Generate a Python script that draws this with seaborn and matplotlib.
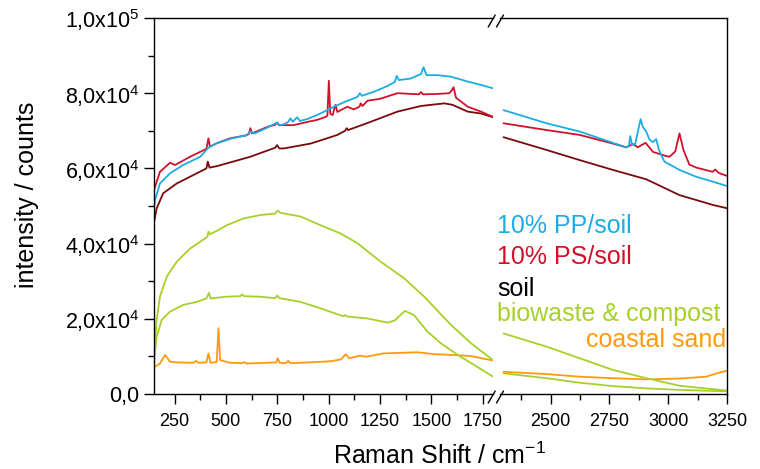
import numpy as np
import pandas as pd
import matplotlib
matplotlib.use("Agg")
import matplotlib.pyplot as plt
from matplotlib.lines import Line2D
from matplotlib.ticker import MultipleLocator, FixedLocator
import seaborn as sns

# ---------------- data (intensity in units of 10^4 counts) ----------------
SERIES = ["10% PP/soil", "10% PS/soil", "soil", "biowaste 1", "biowaste 2", "coastal sand"]
COLORS = {"10% PP/soil": "#1CACE3", "10% PS/soil": "#D0112B", "soil": "#7A0A0A",
          "biowaste 1": "#A6D12A", "biowaste 2": "#A6D12A", "coastal sand": "#FF9A0E"}

# left segment (150 - 1800 cm-1)
pp_lo_x = [151, 155, 179, 228, 292, 375, 415, 456, 530, 600, 619, 640, 700, 749, 760, 780, 800, 814, 825, 847,
           860, 900, 960, 1026, 1083, 1140, 1152, 1162, 1221, 1286, 1322, 1331, 1342, 1400, 1449, 1462, 1476,
           1530, 1595, 1677, 1742, 1800]
pp_lo_y = [5.00, 5.16, 5.60, 5.87, 6.09, 6.31, 6.55, 6.67, 6.80, 6.88, 6.98, 6.93, 7.08, 7.22, 7.14, 7.17, 7.22,
           7.33, 7.24, 7.36, 7.26, 7.32, 7.46, 7.64, 7.78, 7.90, 8.00, 7.93, 8.04, 8.19, 8.30, 8.46, 8.35, 8.39,
           8.51, 8.69, 8.48, 8.48, 8.44, 8.31, 8.22, 8.13]

ps_lo_x = [151, 155, 179, 228, 252, 326, 405, 415, 422, 456, 520, 600, 612, 619, 627, 700, 740, 749, 760, 829,
           900, 944, 985, 994, 1001, 1008, 1020, 1028, 1034, 1042, 1091, 1122, 1150, 1156, 1165, 1189, 1250,
           1335, 1440, 1449, 1460, 1530, 1587, 1600, 1608, 1620, 1677, 1742, 1800]
ps_lo_y = [5.45, 5.51, 5.91, 6.15, 6.09, 6.31, 6.52, 6.80, 6.58, 6.67, 6.80, 6.88, 6.92, 7.07, 6.93, 7.10, 7.16,
           7.22, 7.15, 7.15, 7.24, 7.29, 7.37, 7.40, 8.33, 7.45, 7.42, 7.60, 7.69, 7.50, 7.64, 7.57, 7.64, 7.73,
           7.66, 7.80, 7.85, 8.00, 7.97, 8.03, 7.97, 7.98, 8.00, 8.08, 8.16, 7.88, 7.64, 7.51, 7.37]

soil_lo_x = [151, 163, 195, 261, 326, 405, 412, 420, 456, 619, 740, 749, 760, 781, 912, 1009, 1042, 1080,
             1088, 1095, 1205, 1335, 1449, 1563, 1603, 1677, 1742, 1800]
soil_lo_y = [4.60, 4.94, 5.34, 5.60, 5.78, 6.00, 6.18, 6.02, 6.06, 6.31, 6.55, 6.62, 6.53, 6.53, 6.66, 6.83,
             6.89, 7.00, 7.07, 7.02, 7.24, 7.51, 7.66, 7.73, 7.69, 7.51, 7.46, 7.36]

bio1_lo_x = [150, 163, 179, 212, 261, 326, 375, 410, 415, 422, 460, 505, 586, 668, 740, 752, 765, 863, 960,
             1058, 1140, 1253, 1367, 1465, 1595, 1693, 1800]
bio1_lo_y = [1.08, 1.97, 2.59, 3.12, 3.52, 3.87, 4.05, 4.18, 4.32, 4.25, 4.35, 4.49, 4.67, 4.76, 4.80, 4.88,
             4.82, 4.72, 4.49, 4.27, 4.01, 3.52, 3.08, 2.59, 1.84, 1.35, 0.90]

bio2_lo_x = [150, 163, 187, 228, 293, 358, 405, 418, 425, 505, 570, 578, 590, 660, 740, 750, 760, 863, 960,
             1070, 1080, 1090, 1188, 1286, 1320, 1371, 1415, 1481, 1546, 1628, 1709, 1800]
bio2_lo_y = [0.86, 1.52, 1.97, 2.19, 2.37, 2.45, 2.54, 2.69, 2.54, 2.59, 2.60, 2.65, 2.60, 2.59, 2.55, 2.62,
             2.55, 2.45, 2.28, 2.07, 2.10, 2.06, 2.01, 1.90, 1.95, 2.21, 2.10, 1.66, 1.35, 1.04, 0.77, 0.46]

sand_lo_x = [150, 179, 204, 228, 261, 340, 355, 365, 405, 415, 425, 455, 464, 472, 521, 580, 590, 600, 700,
             745, 752, 762, 790, 803, 815, 863, 1009, 1060, 1083, 1100, 1153, 1180, 1270, 1433, 1515, 1595,
             1693, 1800]
sand_lo_y = [0.71, 0.81, 1.04, 0.86, 0.84, 0.83, 0.88, 0.83, 0.84, 1.08, 0.83, 0.85, 1.75, 0.90, 0.83, 0.82,
             0.85, 0.81, 0.83, 0.84, 0.95, 0.83, 0.82, 0.88, 0.82, 0.83, 0.87, 0.92, 1.06, 0.95, 1.02, 0.99,
             1.08, 1.11, 1.06, 1.04, 1.01, 0.89]

# right segment (2300 - 3250 cm-1)
pp_hi_x = [2300, 2483, 2624, 2765, 2822, 2833, 2839, 2846, 2860, 2875, 2883, 2892, 2905, 2921, 2935, 2949,
           2960, 2984, 3048, 3118, 3189, 3250]
pp_hi_y = [7.55, 7.20, 6.98, 6.68, 6.56, 6.60, 6.86, 6.62, 6.65, 7.10, 7.31, 7.10, 7.00, 6.76, 6.70, 6.78,
           6.50, 6.18, 5.96, 5.78, 5.65, 5.53]

ps_hi_x = [2300, 2483, 2624, 2765, 2822, 2851, 2870, 2904, 2935, 2990, 3006, 3030, 3048, 3065, 3090, 3120,
           3189, 3200, 3215, 3250]
ps_hi_y = [7.20, 7.02, 6.89, 6.66, 6.56, 6.65, 6.56, 6.68, 6.44, 6.33, 6.31, 6.45, 6.93, 6.49, 6.10, 6.02,
           5.91, 5.97, 5.88, 5.80]

soil_hi_x = [2300, 2483, 2624, 2765, 2907, 3048, 3189, 3250]
soil_hi_y = [6.83, 6.49, 6.22, 5.96, 5.71, 5.29, 5.03, 4.94]

bio1_hi_x = [2300, 2483, 2624, 2765, 2907, 3048, 3250]
bio1_hi_y = [1.61, 1.26, 0.95, 0.64, 0.42, 0.22, 0.09]

bio2_hi_x = [2300, 2483, 2624, 2765, 2907, 3048, 3250]
bio2_hi_y = [0.55, 0.42, 0.30, 0.21, 0.15, 0.11, 0.07]

sand_hi_x = [2300, 2483, 2624, 2765, 2907, 3048, 3161, 3218, 3250]
sand_hi_y = [0.59, 0.53, 0.46, 0.42, 0.39, 0.41, 0.46, 0.57, 0.62]

X_MAJOR_LO = [250, 500, 750, 1000, 1250, 1500, 1750]
X_MAJOR_HI = [2500, 2750, 3000, 3250]
Y_MAJOR = [0, 20000, 40000, 60000, 80000, 100000]
Y_LABELS = ["0,0", "2,0x10$^{4}$", "4,0x10$^{4}$", "6,0x10$^{4}$", "8,0x10$^{4}$", "1,0x10$^{5}$"]
LEGEND = [("10% PP/soil", "#1CACE3"), ("10% PS/soil", "#D0112B"), ("soil", "#000000"),
          ("biowaste & compost", "#A6D12A"), ("coastal sand", "#FF9A0E")]

# ---------------- build long-form tables ----------------
def table(pairs):
    rows = []
    for name, xs, ys in pairs:
        for x, y in zip(xs, ys):
            rows.append((name, x, y * 1e4))
    return pd.DataFrame(rows, columns=["series", "shift", "counts"])

df_lo = table([("10% PP/soil", pp_lo_x, pp_lo_y), ("10% PS/soil", ps_lo_x, ps_lo_y),
               ("soil", soil_lo_x, soil_lo_y), ("biowaste 1", bio1_lo_x, bio1_lo_y),
               ("biowaste 2", bio2_lo_x, bio2_lo_y), ("coastal sand", sand_lo_x, sand_lo_y)])
df_hi = table([("10% PP/soil", pp_hi_x, pp_hi_y), ("10% PS/soil", ps_hi_x, ps_hi_y),
               ("soil", soil_hi_x, soil_hi_y), ("biowaste 1", bio1_hi_x, bio1_hi_y),
               ("biowaste 2", bio2_hi_x, bio2_hi_y), ("coastal sand", sand_hi_x, sand_hi_y)])

# ---------------- style ----------------
sns.set_style("ticks")
plt.rcParams["font.family"] = ["Liberation Sans", "DejaVu Sans"]
plt.rcParams["mathtext.fontset"] = "custom"
plt.rcParams["mathtext.rm"] = "Liberation Sans"
plt.rcParams["mathtext.it"] = "Liberation Sans:italic"
plt.rcParams["mathtext.default"] = "regular"
for key in ("text.color", "axes.labelcolor", "xtick.color", "ytick.color",
            "xtick.labelcolor", "ytick.labelcolor", "axes.edgecolor"):
    plt.rcParams[key] = "black"

W, H = 760, 469
fig = plt.figure(figsize=(W / 100, H / 100), dpi=100)

def fx(px):
    return px / W

def fy(py):
    return 1 - py / H

top, bot = 18, 394
axL = fig.add_axes([fx(154), fy(bot), fx(493) - fx(154), fy(top) - fy(bot)])
axR = fig.add_axes([fx(500), fy(bot), fx(727) - fx(500), fy(top) - fy(bot)])

order = SERIES[::-1]
for ax, df in ((axL, df_lo), (axR, df_hi)):
    sns.lineplot(data=df, x="shift", y="counts", hue="series", hue_order=order,
                 palette=COLORS, estimator=None, sort=False, legend=False,
                 linewidth=1.3, ax=ax)
    ax.set_ylim(0, 100000)
    ax.set_xlabel("")
    ax.set_ylabel("")
    for s in ax.spines.values():
        s.set_linewidth(1.0)
        s.set_color("black")
    ax.tick_params(axis="both", which="major", direction="out", length=7.5, width=1.0,
                   color="black", labelcolor="black")
    ax.tick_params(axis="both", which="minor", direction="out", length=4, width=1.0, color="black")
    ax.tick_params(axis="x", labelsize=13, pad=6)
    ax.xaxis.set_minor_locator(MultipleLocator(125))

axL.set_xlim(150, 1800)
axL.set_xticks(X_MAJOR_LO)
axL.set_xticklabels([str(v) for v in X_MAJOR_LO])
axL.set_yticks(Y_MAJOR)
axL.set_yticklabels(Y_LABELS)
axL.yaxis.set_minor_locator(MultipleLocator(10000))
axL.tick_params(axis="y", labelsize=15.5, pad=3)
axL.spines["right"].set_visible(False)
axL.spines["top"].set_visible(True)

axR.set_xlim(2285, 3250)
axR.set_xticks(X_MAJOR_HI)
axR.set_xticklabels([str(v) for v in X_MAJOR_HI])
axR.set_yticks([])
axR.yaxis.set_minor_locator(FixedLocator([]))
axR.tick_params(axis="y", left=False, right=False, labelleft=False)
axR.spines["left"].set_visible(False)
axR.spines["top"].set_visible(True)
axR.spines["right"].set_visible(True)

# axis break marks
for cy in (top + 3, bot + 3):
    for cx in (491.7, 500.0):
        fig.add_artist(Line2D([fx(cx - 3.5), fx(cx + 3.5)], [fy(cy + 6), fy(cy - 6)],
                              transform=fig.transFigure, color="black", lw=1.0))

# axis titles
fig.text(fx(440), fy(456), "Raman Shift / cm$^{-1}$", fontsize=18, ha="center", va="center", color="black")
fig.text(fx(27), fy(195), "intensity / counts", fontsize=18, rotation=90, ha="center", va="center",
         color="black")

# in-plot labels
baselines = [233, 264, 296, 321, 347]
for (txt, col), yb in zip(LEGEND, baselines):
    if txt == "coastal sand":
        fig.text(fx(726), fy(yb), txt, color=col, fontsize=18, ha="right", va="baseline")
    else:
        fig.text(fx(497), fy(yb), txt, color=col, fontsize=18, ha="left", va="baseline")

fig.savefig("out.png", dpi=100)
